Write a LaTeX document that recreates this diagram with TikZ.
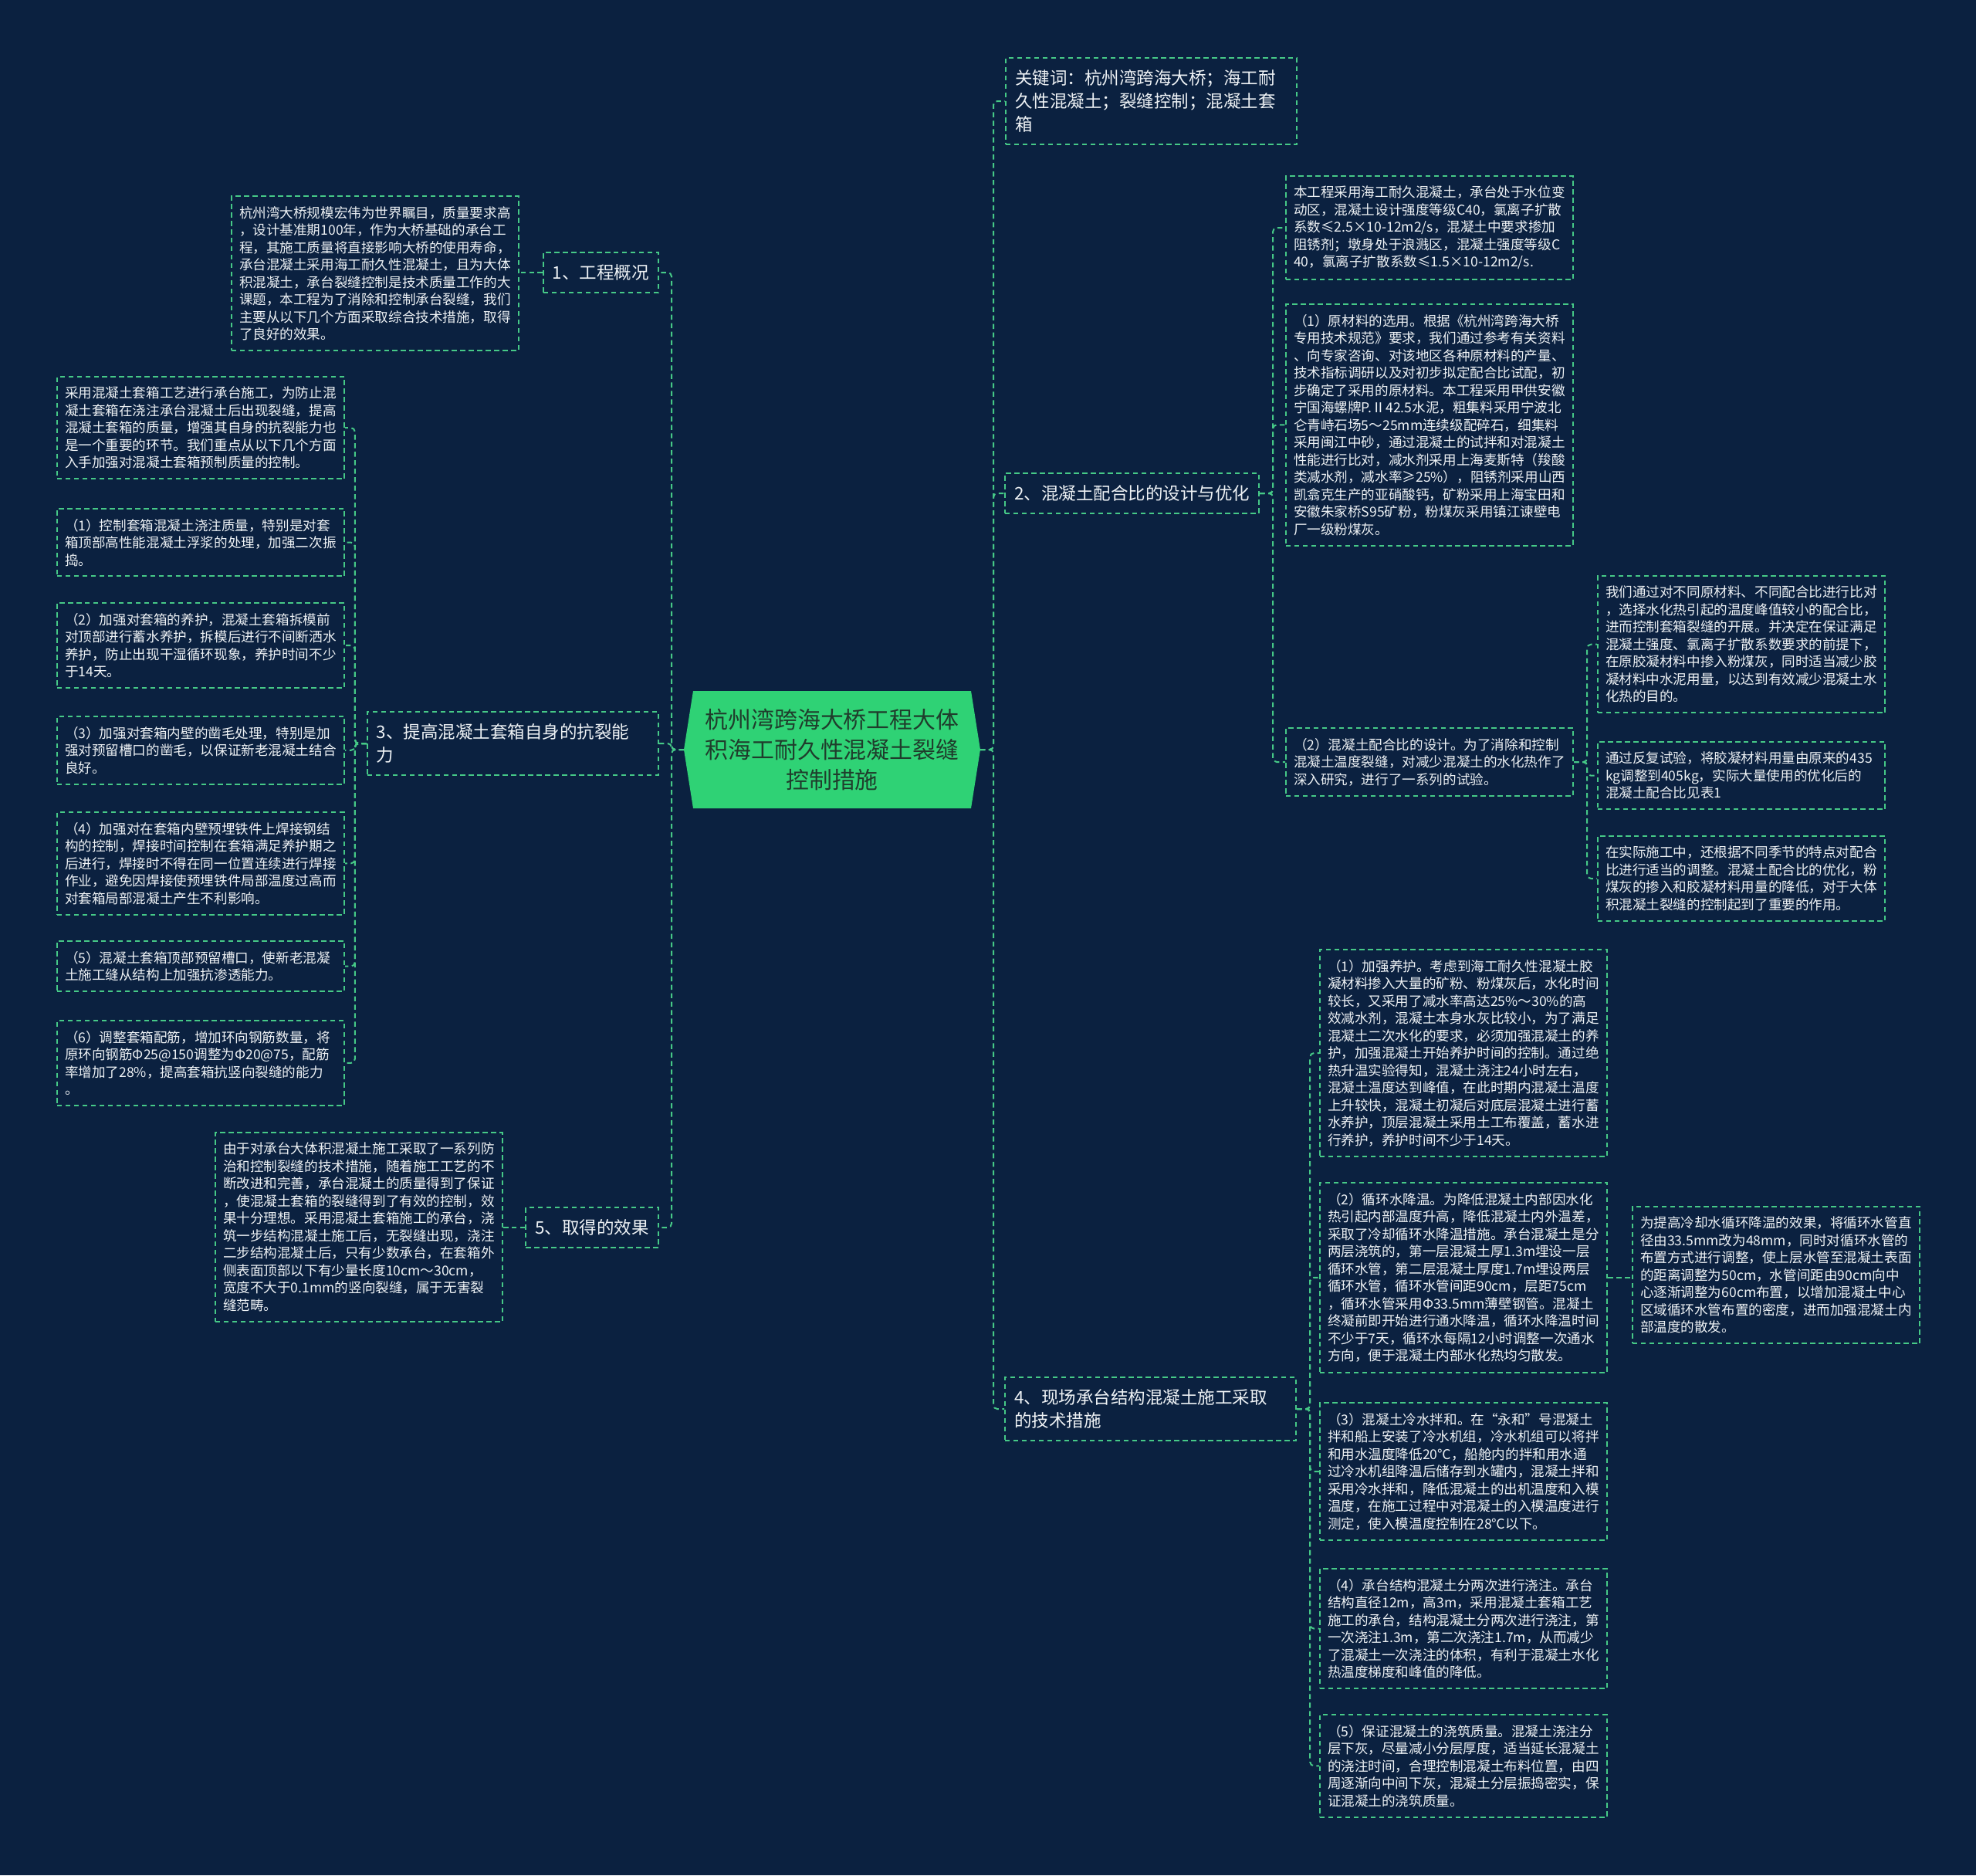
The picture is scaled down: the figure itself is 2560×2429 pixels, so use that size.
\documentclass[tikz,border=0pt]{standalone}
\usepackage{fontspec}
\setmainfont{Noto Sans CJK SC}
\exhyphenpenalty=10000
\hyphenpenalty=10000
\hbadness=10000
\hfuzz=50pt
\definecolor{bg}{HTML}{0B2140}
\definecolor{lineG}{HTML}{46C987}
\definecolor{rootG}{HTML}{2FD275}
\definecolor{rootT}{HTML}{1F3D2C}
\definecolor{txt}{HTML}{EEF2F5}
\newcommand{\leaffont}{\fontsize{5pt}{6.4pt}\selectfont}
\newcommand{\branchfont}{\fontsize{6.4pt}{8.5pt}\selectfont}
\newcommand{\rootfont}{\fontsize{8.5pt}{11.1pt}\selectfont}
\tikzset{
  dsh/.style={draw=lineG, line width=0.57pt, dash pattern=on 1.84pt off 1.28pt},
  conn/.style={dsh, rounded corners=0.05cm},
  leaf/.style={dsh, text=txt, font=\leaffont, text width=3.52cm, align=left,
    inner xsep=0.1cm, inner ysep=0.13cm, anchor=north west},
  branch/.style={dsh, text=txt, font=\branchfont, align=left,
    inner xsep=0.12cm, inner ysep=0.155cm},
}
\begin{document}
\begin{tikzpicture}[x=0.01cm,y=-0.01cm]
\fill[bg] (0,0) rectangle (2560,2429);
\useasboundingbox (0,0) rectangle (2560,2429);

% root
\coordinate (rootL) at (886,971);
\coordinate (rootR) at (1270,971);
\fill[rootG] (898,895) -- (1258,895) -- (rootR) -- (1258,1047) -- (898,1047) -- (rootL) -- cycle;
\node[font=\rootfont, text=rootT, align=center] (root) at (1078,971)
  {杭州湾跨海大桥工程大体\\积海工耐久性混凝土裂缝\\控制措施};

% left branches
\node[branch, anchor=east] (b1) at (854,353) {1、工程概况};
\node[branch, anchor=east, text width=3.53cm] (b3) at (854,963) {3、提高混凝土套箱自身的抗裂能\\力};
\node[branch, anchor=east] (b5) at (854,1590) {5、取得的效果};

% right branches
\node[branch, anchor=west, text width=3.53cm] (kw) at (1302,131) {关键词：杭州湾跨海大桥；海工耐\\久性混凝土；裂缝控制；混凝土套\\箱};
\node[branch, anchor=west] (b2) at (1301,639) {2、混凝土配合比的设计与优化};
\node[branch, anchor=west, text width=3.53cm] (b4) at (1301,1825) {4、现场承台结构混凝土施工采取\\的技术措施};

% leaves of branch 1
\node[leaf] (A) at (299,253) {杭州湾大桥规模宏伟为世界瞩目，质量要求高\\，设计基准期100年，作为大桥基础的承台工\\程，其施工质量将直接影响大桥的使用寿命，\\承台混凝土采用海工耐久性混凝土，且为大体\\积混凝土，承台裂缝控制是技术质量工作的大\\课题，本工程为了消除和控制承台裂缝，我们\\主要从以下几个方面采取综合技术措施，取得\\了良好的效果。};

% leaves of branch 3
\node[leaf] (L0) at (73,487) {采用混凝土套箱工艺进行承台施工，为防止混\\凝土套箱在浇注承台混凝土后出现裂缝，提高\\混凝土套箱的质量，增强其自身的抗裂能力也\\是一个重要的环节。我们重点从以下几个方面\\入手加强对混凝土套箱预制质量的控制。};
\node[leaf] (L1) at (73,658) {（1）控制套箱混凝土浇注质量，特别是对套\\箱顶部高性能混凝土浮浆的处理，加强二次振\\捣。};
\node[leaf] (L2) at (73,780) {（2）加强对套箱的养护，混凝土套箱拆模前\\对顶部进行蓄水养护，拆模后进行不间断洒水\\养护，防止出现干湿循环现象，养护时间不少\\于14天。};
\node[leaf] (L3) at (73,927) {（3）加强对套箱内壁的凿毛处理，特别是加\\强对预留槽口的凿毛，以保证新老混凝土结合\\良好。};
\node[leaf] (L4) at (73,1051) {（4）加强对在套箱内壁预埋铁件上焊接钢结\\构的控制，焊接时间控制在套箱满足养护期之\\后进行，焊接时不得在同一位置连续进行焊接\\作业，避免因焊接使预埋铁件局部温度过高而\\对套箱局部混凝土产生不利影响。};
\node[leaf] (L5) at (73,1218) {（5）混凝土套箱顶部预留槽口，使新老混凝\\土施工缝从结构上加强抗渗透能力。};
\node[leaf] (L6) at (73,1321) {（6）调整套箱配筋，增加环向钢筋数量，将\\原环向钢筋Φ25@150调整为Φ20@75，配筋\\率增加了28\%，提高套箱抗竖向裂缝的能力\\。};

% leaf of branch 5
\node[leaf] (E) at (278,1466) {由于对承台大体积混凝土施工采取了一系列防\\治和控制裂缝的技术措施，随着施工工艺的不\\断改进和完善，承台混凝土的质量得到了保证\\，使混凝土套箱的裂缝得到了有效的控制，效\\果十分理想。采用混凝土套箱施工的承台，浇\\筑一步结构混凝土施工后，无裂缝出现，浇注\\二步结构混凝土后，只有少数承台，在套箱外\\侧表面顶部以下有少量长度10cm～30cm，\\宽度不大于0.1mm的竖向裂缝，属于无害裂\\缝范畴。};

% leaves of branch 2
\node[leaf] (R1) at (1665,227) {本工程采用海工耐久混凝土，承台处于水位变\\动区，混凝土设计强度等级C40，氯离子扩散\\系数≤2.5×10-12m2/s，混凝土中要求掺加\\阻锈剂；墩身处于浪溅区，混凝土强度等级C\\40，氯离子扩散系数≤1.5×10-12m2/s.};
\node[leaf] (R2) at (1665,393) {（1）原材料的选用。根据《杭州湾跨海大桥\\专用技术规范》要求，我们通过参考有关资料\\、向专家咨询、对该地区各种原材料的产量、\\技术指标调研以及对初步拟定配合比试配，初\\步确定了采用的原材料。本工程采用甲供安徽\\宁国海螺牌P.Ⅱ42.5水泥，粗集料采用宁波北\\仑青峙石场5～25mm连续级配碎石，细集料\\采用闽江中砂，通过混凝土的试拌和对混凝土\\性能进行比对，减水剂采用上海麦斯特（羧酸\\类减水剂，减水率≥25\%），阻锈剂采用山西\\凯翕克生产的亚硝酸钙，矿粉采用上海宝田和\\安徽朱家桥S95矿粉，粉煤灰采用镇江谏壁电\\厂一级粉煤灰。};
\node[leaf] (R3) at (1665,942) {（2）混凝土配合比的设计。为了消除和控制\\混凝土温度裂缝，对减少混凝土的水化热作了\\深入研究，进行了一系列的试验。};

% leaves of R3
\node[leaf] (RR1) at (2069,745) {我们通过对不同原材料、不同配合比进行比对\\，选择水化热引起的温度峰值较小的配合比，\\进而控制套箱裂缝的开展。并决定在保证满足\\混凝土强度、氯离子扩散系数要求的前提下，\\在原胶凝材料中掺入粉煤灰，同时适当减少胶\\凝材料中水泥用量，以达到有效减少混凝土水\\化热的目的。};
\node[leaf] (RR2) at (2069,960) {通过反复试验，将胶凝材料用量由原来的435\\kg调整到405kg，实际大量使用的优化后的\\混凝土配合比见表1};
\node[leaf] (RR3) at (2069,1082) {在实际施工中，还根据不同季节的特点对配合\\比进行适当的调整。混凝土配合比的优化，粉\\煤灰的掺入和胶凝材料用量的降低，对于大体\\积混凝土裂缝的控制起到了重要的作用。};

% leaves of branch 4
\node[leaf] (F1) at (1709,1229) {（1）加强养护。考虑到海工耐久性混凝土胶\\凝材料掺入大量的矿粉、粉煤灰后，水化时间\\较长，又采用了减水率高达25\%～30\%的高\\效减水剂，混凝土本身水灰比较小，为了满足\\混凝土二次水化的要求，必须加强混凝土的养\\护，加强混凝土开始养护时间的控制。通过绝\\热升温实验得知，混凝土浇注24小时左右，\\混凝土温度达到峰值，在此时期内混凝土温度\\上升较快，混凝土初凝后对底层混凝土进行蓄\\水养护，顶层混凝土采用土工布覆盖，蓄水进\\行养护，养护时间不少于14天。};
\node[leaf] (F2) at (1709,1531) {（2）循环水降温。为降低混凝土内部因水化\\热引起内部温度升高，降低混凝土内外温差，\\采取了冷却循环水降温措施。承台混凝土是分\\两层浇筑的，第一层混凝土厚1.3m埋设一层\\循环水管，第二层混凝土厚度1.7m埋设两层\\循环水管，循环水管间距90cm，层距75cm\\，循环水管采用Φ33.5mm薄壁钢管。混凝土\\终凝前即开始进行通水降温，循环水降温时间\\不少于7天，循环水每隔12小时调整一次通水\\方向，便于混凝土内部水化热均匀散发。};
\node[leaf] (FR) at (2114,1562) {为提高冷却水循环降温的效果，将循环水管直\\径由33.5mm改为48mm，同时对循环水管的\\布置方式进行调整，使上层水管至混凝土表面\\的距离调整为50cm，水管间距由90cm向中\\心逐渐调整为60cm布置，以增加混凝土中心\\区域循环水管布置的密度，进而加强混凝土内\\部温度的散发。};
\node[leaf] (F3) at (1709,1816) {（3）混凝土冷水拌和。在“永和”号混凝土\\拌和船上安装了冷水机组，冷水机组可以将拌\\和用水温度降低20℃，船舱内的拌和用水通\\过冷水机组降温后储存到水罐内，混凝土拌和\\采用冷水拌和，降低混凝土的出机温度和入模\\温度，在施工过程中对混凝土的入模温度进行\\测定，使入模温度控制在28℃以下。};
\node[leaf] (F4) at (1709,2031) {（4）承台结构混凝土分两次进行浇注。承台\\结构直径12m，高3m，采用混凝土套箱工艺\\施工的承台，结构混凝土分两次进行浇注，第\\一次浇注1.3m，第二次浇注1.7m，从而减少\\了混凝土一次浇注的体积，有利于混凝土水化\\热温度梯度和峰值的降低。};
\node[leaf] (F5) at (1709,2220) {（5）保证混凝土的浇筑质量。混凝土浇注分\\层下灰，尽量减小分层厚度，适当延长混凝土\\的浇注时间，合理控制混凝土布料位置，由四\\周逐渐向中间下灰，混凝土分层振捣密实，保\\证混凝土的浇筑质量。};

% connectors: root to branches
\foreach \t in {b1,b3,b5} \draw[conn] (rootL) -- ++(-16,0) |- (\t.east);
\foreach \t in {kw,b2,b4} \draw[conn] (rootR) -- ++(17,0) |- (\t.west);

% branch 1
\draw[conn] (b1.west) -- (b1.west -| A.east);
% branch 3
\foreach \t in {L0,L1,L2,L3,L4,L5,L6} \draw[conn] (b3.west) -- ++(-15,0) |- (\t.east);
% branch 5
\draw[conn] (b5.west) -- (b5.west -| E.east);
% branch 2
\foreach \t in {R1,R2,R3} \draw[conn] (b2.east) -- ++(17,0) |- (\t.west);
\foreach \t in {RR1,RR2,RR3} \draw[conn] (R3.east) -- ++(17,0) |- (\t.west);
% branch 4
\foreach \t in {F1,F2,F3,F4,F5} \draw[conn] (b4.east) -- ++(17,0) |- (\t.west);
\draw[conn] (F2.east) -- (F2.east -| FR.west);
\end{tikzpicture}
\end{document}
